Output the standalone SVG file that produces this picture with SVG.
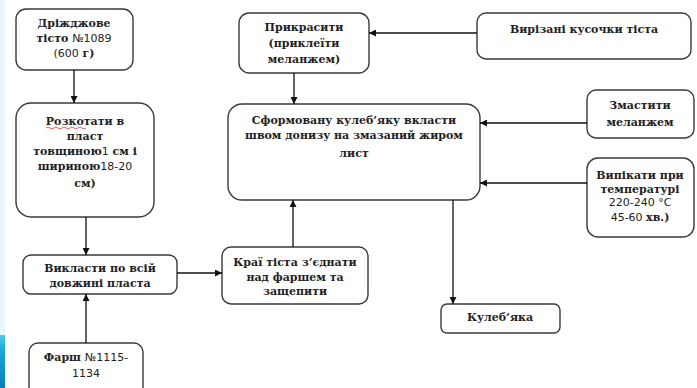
<svg xmlns="http://www.w3.org/2000/svg" width="697" height="388" viewBox="0 0 697 388">
<defs>
<marker id="ah" viewBox="0 0 10 10" refX="10" refY="5" markerWidth="7" markerHeight="7" markerUnits="userSpaceOnUse" orient="auto">
<path d="M0,0 L10,5 L0,10 z" fill="#111"/>
</marker>
<linearGradient id="strip" x1="0" y1="0" x2="0" y2="1">
<stop offset="0" stop-color="#4fc9ea"/>
<stop offset="0.3" stop-color="#19a8d8"/>
<stop offset="1" stop-color="#0a7fb8"/>
</linearGradient>
</defs>
<style>
.box{fill:#fff;stroke:#3a3a3a;stroke-width:1.4}
.t{font-family:"DejaVu Serif","Liberation Serif",serif;font-size:11px;font-weight:bold;fill:#222;text-anchor:middle}
.n{font-family:"DejaVu Sans","Liberation Sans",sans-serif;font-weight:normal}
.c{fill:none;stroke:#111;stroke-width:1.3;marker-end:url(#ah)}
</style>
<rect x="0" y="0" width="697" height="388" fill="#fff"/>
<rect x="0" y="0" width="5" height="335" fill="#eaf5fb"/>
<rect x="0" y="335" width="5" height="53" fill="url(#strip)"/>

<g id="n1">
<rect class="box" x="16" y="9" width="117" height="61" rx="10"/>
<text class="t" x="74" y="27">Дріжджове</text>
<text class="t" x="74" y="42">тісто <tspan class="n">№1089</tspan></text>
<text class="t" x="74" y="57"><tspan class="n">(600</tspan> г)</text>
</g>
<g id="n2">
<rect class="box" x="16" y="103" width="138" height="114" rx="15"/>
<text class="t" x="85" y="125">Розкотати в</text>
<path d="M46,128 q2,-2 4,0 t4,0 t4,0 t4,0 t4,0 t4,0 t4,0 t4,0 t4,0 t4,0" fill="none" stroke="#e03030" stroke-width="0.8"/>
<text class="t" x="85" y="140">пласт</text>
<text class="t" x="85" y="155">товщиною<tspan class="n">1</tspan> см і</text>
<text class="t" x="85" y="170">шириною<tspan class="n">18-20</tspan></text>
<text class="t" x="85" y="187">см)</text>
</g>
<g id="n3">
<rect class="box" x="23" y="255" width="154" height="39" rx="8"/>
<text class="t" x="100" y="272">Викласти по всій</text>
<text class="t" x="100" y="287">довжині пласта</text>
</g>
<g id="n4">
<rect class="box" x="222" y="247" width="146" height="57" rx="9"/>
<text class="t" x="295" y="266">Краї тіста з’єднати</text>
<text class="t" x="295" y="281">над фаршем та</text>
<text class="t" x="295" y="295">защепити</text>
</g>
<g id="n5">
<rect class="box" x="29" y="343" width="114" height="55" rx="9"/>
<text class="t" x="86" y="361">Фарш <tspan class="n">№1115-</tspan></text>
<text class="t n" x="86" y="377">1134</text>
</g>
<g id="n6">
<rect class="box" x="228" y="104" width="252" height="96" rx="14"/>
<text class="t" x="354" y="124">Сформовану кулеб’яку вкласти</text>
<text class="t" x="354" y="139">швом донизу на змазаний жиром</text>
<text class="t" x="354" y="157">лист</text>
</g>
<g id="n7">
<rect class="box" x="239" y="13" width="130" height="60" rx="10"/>
<text class="t" x="304" y="31">Прикрасити</text>
<text class="t" x="304" y="47">(приклеїти</text>
<text class="t" x="304" y="63">меланжем)</text>
</g>
<g id="n8">
<rect class="box" x="477" y="13" width="214" height="46" rx="9"/>
<text class="t" x="584" y="33">Вирізані кусочки тіста</text>
</g>
<g id="n9">
<rect class="box" x="587" y="90" width="107" height="48" rx="9"/>
<text class="t" x="640" y="109">Змастити</text>
<text class="t" x="640" y="126">меланжем</text>
</g>
<g id="n10">
<rect class="box" x="587" y="158" width="107" height="79" rx="11"/>
<text class="t" x="640" y="179">Випікати при</text>
<text class="t" x="640" y="193">температурі</text>
<text class="t n" x="640" y="206">220-240 °С</text>
<text class="t n" x="640" y="221">45-60 <tspan class="t">хв.)</tspan></text>
</g>
<g id="n11">
<rect class="box" x="441" y="304" width="119" height="29" rx="6"/>
<text class="t" x="500" y="321">Кулеб’яка</text>
</g>

<g id="connectors">
<path class="c" d="M74,70 V103"/>
<path class="c" d="M86,217 V255"/>
<path class="c" d="M86,343 V294"/>
<path class="c" d="M177,273 H222"/>
<path class="c" d="M293,247 V200"/>
<path class="c" d="M294,73 V104"/>
<path class="c" d="M477,33 H369"/>
<path class="c" d="M587,123 H480"/>
<path class="c" d="M587,183 H480"/>
<path class="c" d="M453,200 V304"/>
</g>
</svg>
